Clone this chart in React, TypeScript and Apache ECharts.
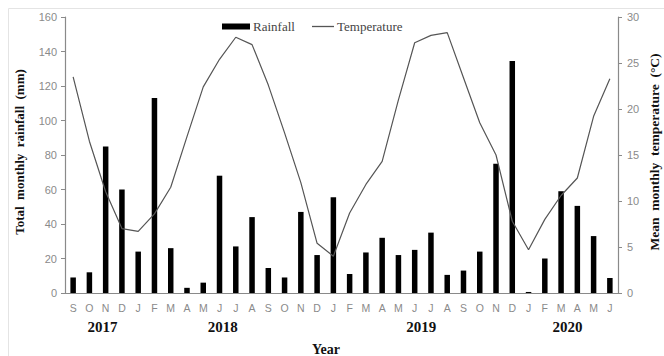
import React, { useEffect, useRef } from "react";
import * as echarts from "echarts";

// Monthly series, September 2017 – June 2020
const months = [
  "S", "O", "N", "D",
  "J", "F", "M", "A", "M", "J", "J", "A", "S", "O", "N", "D",
  "J", "F", "M", "A", "M", "J", "J", "A", "S", "O", "N", "D",
  "J", "F", "M", "A", "M", "J",
];

// Total monthly rainfall (mm)
const rainfall = [
  9, 12, 85, 60,
  24, 113, 26, 3, 6, 68, 27, 44, 14.5, 9, 47, 22,
  55.5, 11, 23.5, 32, 22, 25, 35, 10.5, 13, 24, 75, 134.5,
  0.6, 20, 59, 50.5, 33, 8.7,
];

// Mean monthly temperature (°C)
const temperature = [
  23.5, 16.5, 11.0, 7.0,
  6.7, 8.6, 11.5, 17.0, 22.4, 25.4, 27.8, 27.0, 22.6, 17.4, 12.0, 5.4,
  4.0, 8.7, 11.8, 14.3, 21.0, 27.2, 28.0, 28.3, 23.4, 18.5, 15.0, 7.8,
  4.7, 8.0, 10.6, 12.5, 19.2, 23.3,
];

// Year captions and the (fractional) month index each one sits under
const years = ["2017", "2018", "2019", "2020"];
const yearAnchors = [1.8, 9.2, 21.4, 30.4];

const rainTicks = { min: 0, max: 160, interval: 20 };
const tempTicks = { min: 0, max: 30, interval: 5 };

const W = 664;
const H = 356;
const GRID = { left: 65, right: 46, top: 17, bottom: 63 };

const SERIF = "'Liberation Serif', 'Times New Roman', serif";
const SANS = "'Liberation Sans', Arial, sans-serif";
const GREY = "#8a8a8a";
const LINE = "#555";

export default function App() {
  const ref = useRef<HTMLDivElement>(null);

  useEffect(() => {
    if (!ref.current) return;
    const chart = echarts.init(ref.current, undefined, { renderer: "svg" });

    const plotW = W - GRID.left - GRID.right;
    const cat = plotW / months.length;
    const yearTexts = years.map((y, i) => ({
      type: "text",
      x: GRID.left + (yearAnchors[i] + 0.5) * cat,
      y: 327,
      style: {
        text: y,
        fontFamily: SERIF,
        fontWeight: "bold",
        fontSize: 15,
        fill: "#111",
        align: "center",
        verticalAlign: "middle",
      },
    }));

    const legendText = { fontFamily: SERIF, fontSize: 13, color: "#444", padding: [0, 0, 0, -2] };

    chart.setOption({
      animation: false,
      backgroundColor: "#fff",
      grid: { ...GRID, containLabel: false },
      legend: [
        {
          data: [{ name: "Rainfall", icon: "rect" }],
          left: 217,
          top: 15,
          itemWidth: 28,
          itemHeight: 6,
          textStyle: legendText,
        },
        {
          data: [{ name: "Temperature", icon: "rect", itemStyle: { color: LINE } }],
          left: 307,
          top: 15,
          itemWidth: 22,
          itemHeight: 1.3,
          textStyle: legendText,
        },
      ],
      xAxis: {
        type: "category",
        data: months,
        boundaryGap: true,
        axisLine: { lineStyle: { color: GREY, width: 1.2 } },
        axisTick: { show: false },
        axisLabel: {
          interval: 0,
          margin: 9,
          fontFamily: SANS,
          fontSize: 10.5,
          color: GREY,
        },
      },
      yAxis: [
        {
          type: "value",
          ...rainTicks,
          position: "left",
          splitLine: { show: false },
          axisLine: { show: true, lineStyle: { color: GREY, width: 1.2 } },
          axisTick: { show: true, length: 4, lineStyle: { color: GREY } },
          axisLabel: { margin: 8, fontFamily: SANS, fontSize: 11, color: GREY },
        },
        {
          type: "value",
          ...tempTicks,
          position: "right",
          splitLine: { show: false },
          axisLine: { show: true, lineStyle: { color: GREY, width: 1.2 } },
          axisTick: { show: true, length: 4, lineStyle: { color: GREY } },
          axisLabel: { margin: 9, fontFamily: SANS, fontSize: 11, color: GREY },
        },
      ],
      series: [
        {
          name: "Rainfall",
          type: "bar",
          yAxisIndex: 0,
          data: rainfall,
          barWidth: 5.5,
          itemStyle: { color: "#000" },
        },
        {
          name: "Temperature",
          type: "line",
          yAxisIndex: 1,
          data: temperature,
          symbol: "none",
          lineStyle: { color: LINE, width: 1.2 },
          itemStyle: { color: LINE },
          z: 3,
        },
      ],
      graphic: [
        {
          type: "rect",
          shape: { x: 8.5, y: 8.5, width: W + 20, height: H + 20 },
          style: { fill: "none", stroke: "#e4e4e4", lineWidth: 1 },
          silent: true,
          z: -10,
        },
        {
          type: "text",
          x: 19,
          y: 152,
          rotation: Math.PI / 2,
          style: {
            text: "Total  monthly  rainfall  (mm)",
            fontFamily: SERIF,
            fontWeight: "bold",
            fontSize: 13,
            fill: "#111",
            align: "center",
            verticalAlign: "middle",
          },
        },
        {
          type: "text",
          x: 654,
          y: 152,
          rotation: Math.PI / 2,
          style: {
            text: "Mean  monthly  temperature  (°C)",
            fontFamily: SERIF,
            fontWeight: "bold",
            fontSize: 13.5,
            fill: "#111",
            align: "center",
            verticalAlign: "middle",
          },
        },
        ...yearTexts,
        {
          type: "text",
          x: 326,
          y: 349,
          style: {
            text: "Year",
            fontFamily: SERIF,
            fontWeight: "bold",
            fontSize: 14,
            fill: "#111",
            align: "center",
            verticalAlign: "middle",
          },
        },
      ],
    });

    return () => chart.dispose();
  }, []);

  return (
    <div
      ref={ref}
      style={{ position: "fixed", left: 0, top: 0, width: W, height: H }}
    />
  );
}
